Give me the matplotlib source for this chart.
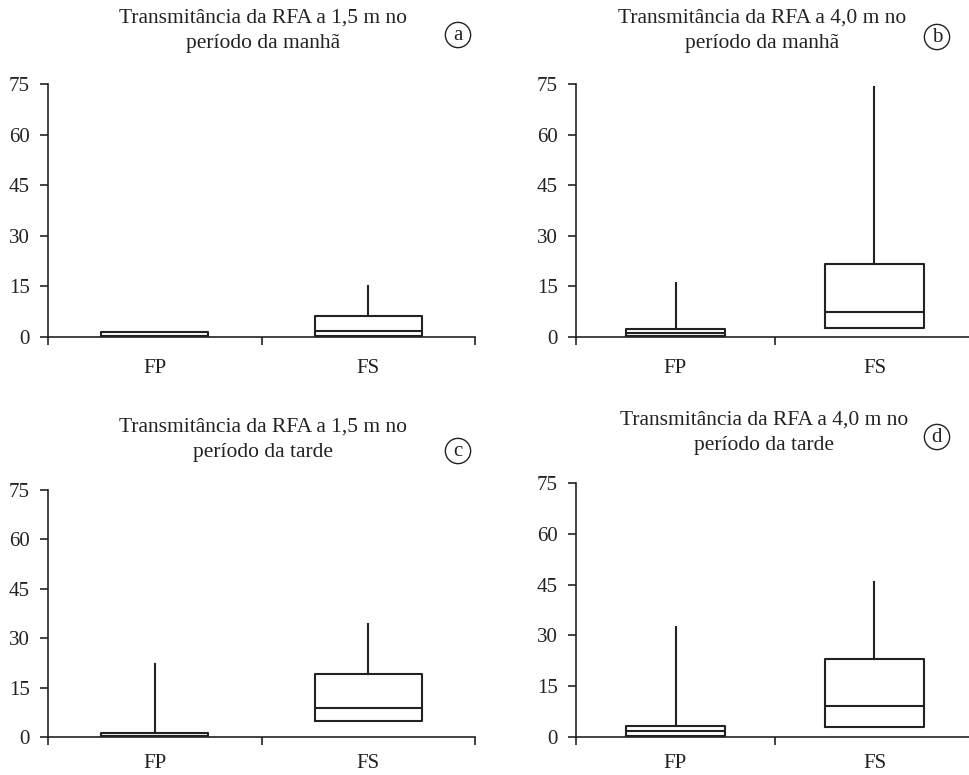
import matplotlib
matplotlib.use("Agg")
import matplotlib.pyplot as plt

plt.rcParams['font.family'] = ['Liberation Serif', 'DejaVu Serif']

categories = ["FP", "FS"]
titles = [
    "Transmitância da RFA a 1,5 m no\nperíodo da manhã",
    "Transmitância da RFA a 4,0 m no\nperíodo da manhã",
    "Transmitância da RFA a 1,5 m no\nperíodo da tarde",
    "Transmitância da RFA a 4,0 m no\nperíodo da tarde",
]
panel_tags = ["a", "b", "c", "d"]
yticks = [0, 15, 30, 45, 60, 75]

# per panel: [FP, FS]
q1_vals = [[0.1, 0.3], [0.2, 2.7], [0.1, 4.8], [0.3, 3.1]]
med_vals = [[0.4, 1.9], [1.3, 7.5], [0.3, 8.8], [1.8, 9.2]]
q3_vals = [[1.6, 6.2], [2.5, 21.5], [1.2, 19.2], [3.2, 23.1]]
whishi_vals = [[1.6, 15.1], [16.1, 74.2], [22.1, 34.2], [32.5, 45.9]]

W, H = 969, 775
# axes boxes in pixels: left, right, top, bottom
boxes_px = [
    (48, 475, 84, 337),
    (576, 974, 84, 337),
    (48, 475, 490, 737),
    (576, 974, 483, 737),
]
label_pad = [16, 16, 12, 12]
title_pos = [(263, 31), (762, 31), (263, 440), (764, 433)]
tag_pos = [(458, 35), (937, 37), (458, 451), (937, 437)]

fig = plt.figure(figsize=(W / 100, H / 100), dpi=100)

for i in range(4):
    l, r, t, b = boxes_px[i]
    ax = fig.add_axes([l / W, 1 - b / H, (r - l) / W, (b - t) / H])
    stats = []
    for j, cat in enumerate(categories):
        stats.append(dict(label=cat, med=med_vals[i][j], q1=q1_vals[i][j],
                          q3=q3_vals[i][j], whislo=q1_vals[i][j],
                          whishi=whishi_vals[i][j], fliers=[]))
    lw = 1.5
    ax.bxp(stats, positions=[0.5, 1.5], widths=0.5, showcaps=False,
           showfliers=False,
           boxprops=dict(color="#222222", linewidth=lw),
           medianprops=dict(color="#222222", linewidth=lw),
           whiskerprops=dict(color="#222222", linewidth=lw))
    ax.set_xlim(0, 2)
    ax.set_ylim(0, 75)
    ax.set_yticks(yticks)
    ax.set_yticklabels([str(v) for v in yticks], fontsize=15, color="#222222")
    ax.set_xticks([0, 1, 2])
    ax.set_xticklabels([])
    ax.set_xticks([0.5, 1.5], minor=True)
    ax.set_xticklabels(categories, minor=True, fontsize=15, color="#222222")
    ax.tick_params(axis="x", which="minor", length=0, pad=label_pad[i])
    ax.tick_params(axis="x", which="major", length=6, width=1.2, color="#222222")
    ax.tick_params(axis="y", length=6, width=1.2, color="#222222", pad=7)
    for s in ["top", "right"]:
        ax.spines[s].set_visible(False)
    for s in ["left", "bottom"]:
        ax.spines[s].set_linewidth(1.2)
        ax.spines[s].set_color("#222222")
    ax.spines["left"].set_bounds(0, 75)

    tx, ty = title_pos[i]
    fig.text(tx / W, 1 - ty / H, titles[i], ha="center", va="center",
             fontsize=15.5, color="#222222", linespacing=1.45)
    gx, gy = tag_pos[i]
    fig.text(gx / W, 1 - gy / H, panel_tags[i], ha="center", va="center",
             fontsize=15, color="#222222",
             bbox=dict(boxstyle="circle,pad=0.15", fc="white", ec="#222222", lw=1.0))

fig.savefig("out.png", dpi=100)
